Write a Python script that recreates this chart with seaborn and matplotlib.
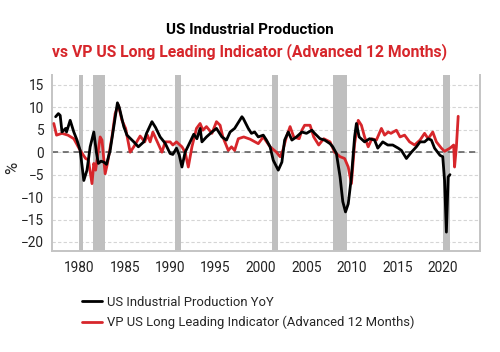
import seaborn as sns
import matplotlib.pyplot as plt
import pandas as pd

# US Industrial Production YoY (%)
ip_year = [1977.4, 1977.7, 1977.9, 1978.1, 1978.5, 1978.6, 1979.0, 1979.4, 1979.75, 1980.1,
           1980.5, 1980.85, 1981.2, 1981.6, 1981.9, 1982.1, 1982.4, 1982.7, 1983.0, 1983.4,
           1983.8, 1984.2, 1984.4, 1984.9, 1985.25, 1986.0, 1986.5, 1987.1, 1987.4, 1988.0,
           1988.4, 1988.9, 1989.45, 1990.0, 1990.3, 1990.7, 1991.0, 1991.3, 1991.65, 1992.2,
           1992.6, 1992.95, 1993.3, 1993.5, 1994.0, 1994.6, 1995.1, 1995.7, 1996.2, 1996.6,
           1997.1, 1997.9, 1998.05, 1998.6, 1998.95, 1999.3, 1999.7, 2000.25, 2000.6, 2001.0,
           2001.35, 2001.9, 2002.3, 2002.6, 2003.0, 2003.4, 2003.9, 2004.5, 2005.0, 2005.6,
           2005.9, 2006.5, 2007.0, 2007.6, 2007.9, 2008.3, 2008.7, 2009.0, 2009.3, 2009.6,
           2009.95, 2010.3, 2010.5, 2010.8, 2011.4, 2011.95, 2012.5, 2012.85, 2013.4, 2013.95,
           2014.5, 2015.1, 2015.45, 2016.0, 2016.55, 2017.1, 2017.5, 2018.0, 2018.4, 2018.75,
           2019.1, 2019.7, 2020.0, 2020.2, 2020.4, 2020.6, 2020.8]
ip_value = [7.9, 8.6, 8.2, 4.5, 5.3, 4.5, 7.1, 4.5, 2.7, 0.4,
            -6.3, -4.0, 1.2, 4.5, -0.2, -2.5, -2.0, -2.2, -2.7, 0.4,
            5.7, 11.0, 10.0, 5.7, 3.8, 2.3, 1.2, 2.3, 4.2, 6.8,
            5.5, 3.4, 2.0, -0.3, -0.5, 0.9, -0.6, -3.3, 0.0, 2.3,
            4.0, 3.0, 5.3, 2.3, 3.4, 4.5, 5.3, 3.4, 2.7, 4.5,
            5.3, 7.9, 7.5, 5.3, 4.2, 4.5, 3.4, 3.8, 2.7, 1.2,
            -1.8, -4.0, -2.2, 2.7, 4.5, 2.7, 3.4, 4.5, 4.2, 4.9,
            4.2, 3.0, 2.7, 1.9, 1.2, -0.3, -5.5, -11.0, -13.3, -11.5,
            -5.5, 3.4, 6.4, 3.4, 2.3, 3.0, 2.7, 0.9, 2.3, 1.6,
            1.6, 0.9, 0.4, -1.4, 0.0, 1.2, 2.3, 2.3, 3.0, 2.7,
            0.9, -0.7, -1.0, -6.3, -17.8, -5.5, -5.0]

# VP US Long Leading Indicator (advanced 12 months)
lli_year = [1977.2, 1977.5, 1978.1, 1978.75, 1979.4, 1980.1, 1980.7, 1981.0, 1981.4, 1981.6,
            1981.8, 1982.3, 1982.5, 1982.85, 1983.1, 1983.6, 1983.95, 1984.3, 1984.7, 1985.1,
            1985.6, 1986.0, 1986.7, 1987.2, 1987.5, 1987.8, 1988.1, 1988.5, 1989.1, 1989.45,
            1990.0, 1990.3, 1990.7, 1991.3, 1991.65, 1992.0, 1992.4, 1992.9, 1993.3, 1993.6,
            1994.0, 1994.6, 1995.1, 1995.5, 1995.8, 1996.4, 1996.75, 1997.1, 1997.5, 1998.1,
            1998.8, 1999.7, 2000.25, 2001.0, 2001.7, 2002.1, 2002.4, 2002.8, 2003.2, 2003.6,
            2004.2, 2004.5, 2004.8, 2005.4, 2005.8, 2006.35, 2006.9, 2007.6, 2008.1, 2008.7,
            2009.2, 2009.6, 2009.95, 2010.3, 2010.7, 2011.05, 2011.4, 2011.8, 2012.2, 2012.7,
            2013.25, 2013.6, 2014.0, 2014.3, 2014.9, 2015.3, 2015.8, 2016.35, 2016.9, 2017.5,
            2018.0, 2018.4, 2018.9, 2019.3, 2019.85, 2020.2, 2020.8, 2021.2, 2021.3, 2021.5,
            2021.7]
lli_value = [6.4, 3.8, 4.2, 3.8, 3.0, 0.4, -1.4, -1.7, -7.0, -2.5,
             -4.0, 3.4, 2.7, -4.8, -2.5, 3.4, 8.6, 10.5, 7.1, 5.3,
             0.0, 1.2, 3.6, 2.3, 3.8, 2.3, 4.5, 2.7, 0.0, 2.3,
             2.3, 1.6, 2.3, 1.2, 0.0, -3.3, 1.2, 5.3, 6.4, 4.9,
             5.7, 4.2, 6.8, 6.0, 3.4, 0.4, 1.2, 0.4, 3.0, 3.4,
             2.9, 1.9, 3.4, 1.2, 0.0, -1.0, 0.4, 3.4, 5.7, 3.4,
             3.0, 4.9, 6.0, 6.0, 3.4, 1.6, 3.0, 2.3, 0.0, -1.0,
             -1.4, -3.3, -7.0, 1.9, 7.1, 6.0, 3.4, 1.2, 3.0, 2.7,
             5.3, 3.8, 4.5, 4.2, 4.9, 3.4, 3.8, 2.3, 1.6, 2.7,
             4.2, 3.0, 4.5, 2.3, 0.9, 0.2, 0.9, 1.6, -3.3, 1.2,
             8.0]

# recession periods (start, end)
rec_start = [1980.0, 1981.5, 1990.5, 2001.2, 2007.9, 2020.0]
rec_end = [1980.45, 1982.85, 1991.2, 2001.85, 2009.45, 2020.8]

ip = pd.DataFrame({"year": ip_year, "value": ip_value})
lli = pd.DataFrame({"year": lli_year, "value": lli_value})

sns.set_style("white")
plt.rcParams["font.family"] = ["Roboto", "DejaVu Sans"]

fig = plt.figure(figsize=(5, 3.52), dpi=100)
ax = fig.add_axes([0.104, 0.287, 0.856, 0.5])

for s, e in zip(rec_start, rec_end):
    ax.axvspan(s, e, color="#bfbfbf", lw=0, zorder=1)

sns.lineplot(data=ip, x="year", y="value", color="black", lw=2.0,
             label="US Industrial Production YoY", ax=ax, zorder=4)
sns.lineplot(data=lli, x="year", y="value", color="#d7262b", lw=2.0,
             label="VP US Long Leading Indicator (Advanced 12 Months)", ax=ax, zorder=3)

ax.axhline(0, color="#555555", lw=1.1, ls=(0, (4, 3)), zorder=2)

ax.set_xlim(1977.0, 2024.1)
ax.set_ylim(-22, 17.2)
ax.set_xticks(range(1980, 2021, 5))
ax.set_yticks(range(-20, 16, 5))
ax.grid(axis="y", color="#d5d5d5", lw=0.8, ls=(0, (3, 2)))
ax.set_axisbelow(True)
ax.set_xlabel("")
ax.set_ylabel("%", fontsize=12, va="center")
ax.yaxis.set_label_coords(-0.091, 0.47)

for side in ["left", "bottom", "right"]:
    ax.spines[side].set_color("#c4c4c4")
    ax.spines[side].set_linewidth(1.4)
ax.spines["top"].set_visible(False)
ax.tick_params(axis="both", labelsize=9.8, colors="#c4c4c4", labelcolor="#222222",
               length=4, width=1.2, direction="out")
ax.tick_params(axis="y", length=3, pad=2.5)

ax.get_legend().remove()
handles, labels = ax.get_legend_handles_labels()
fig.legend(handles, labels, loc="center left", bbox_to_anchor=(0.164, 0.112),
           frameon=False, fontsize=9.4, handlelength=1.55, handletextpad=0.35,
           labelspacing=0.55, borderpad=0, borderaxespad=0)

fig.text(0.5, 1 - 30 / 352, "US Industrial Production", ha="center", va="center",
         fontsize=11, fontweight="bold", color="black")
fig.text(0.5, 1 - 52 / 352, "vs VP US Long Leading Indicator (Advanced 12 Months)",
         ha="center", va="center", fontsize=11.3, fontweight="bold", color="#d7262b")

fig.savefig("out.png", dpi=100)
